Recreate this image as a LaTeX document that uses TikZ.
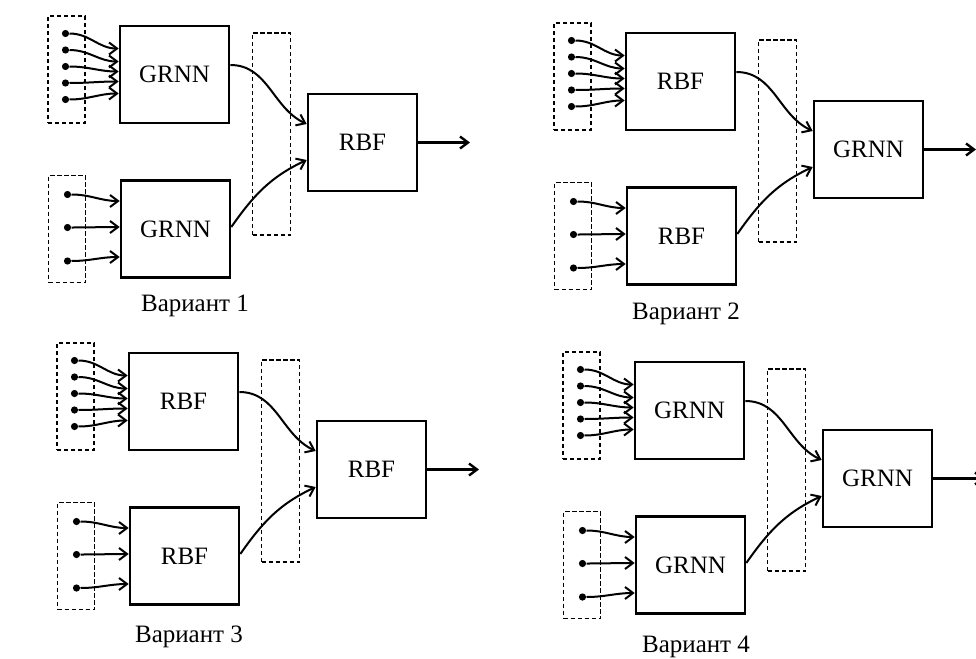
\documentclass[tikz,border=0pt]{standalone}
\usepackage{fontspec}
\setmainfont{Liberation Serif}
\usetikzlibrary{arrows.meta}
\tikzset{
  >={Straight Barb[length=4pt,width=6pt]},
  net/.style={draw,line width=1.3pt,minimum width=54.5pt,minimum height=48.5pt,inner sep=0pt,font=\fontsize{12.5}{14}\selectfont},
  grp/.style={draw,line width=0.9pt,dash pattern=on 2.2pt off 1.3pt,minimum width=18.5pt,minimum height=53.5pt,inner sep=0pt},
  pin/.style={circle,fill,inner sep=0pt,minimum size=3.6pt},
  arr/.style={->,line width=1pt},
  lbl/.style={font=\fontsize{12.5}{14}\selectfont},
}
\begin{document}
\begin{tikzpicture}[x=0.5pt,y=-0.5pt]
\useasboundingbox (0,0) rectangle (976,659);
% one scheme per variant: left nets, mixing net, caption
\foreach \dx/\dy/\ta/\tb/\lx/\ly/\n in {120/26/GRNN/RBF/195/306/1,626/33/RBF/GRNN/686/314/2,129/353/RBF/RBF/189/637/3,635/362/GRNN/GRNN/696/647/4}{
  \begin{scope}[shift={(\dx,\dy)},name prefix=v\n-]
  \node[net] (top) at (54.5,48.5) {\ta};
  \node[net] (bot) at (55.5,203) {\ta};
  \node[net] (mix) at (242.5,116.5) {\tb};
  \node[grp] (gtop) at (-53.5,43.5) {};
  \node[grp] (gbot) at (-53,203) {};
  \node[grp,minimum width=19pt,minimum height=101pt] (gmid) at (151.5,108) {};
  \foreach \k/\y/\s in {1/7.5/13,2/24/6.5,3/40.5/1.5,4/57/-3.5,5/73.5/-9.5}{
    \node[pin] (a\k) at (-54.5,\y) {};
    \draw[arr] (a\k) to[out=0,in=180] ([yshift=\s pt]top.west);
  }
  \foreach \k/\y/\s in {1/168.5/14,2/201.5/1,3/235/-14}{
    \node[pin] (b\k) at (-52.5,\y) {};
    \draw[arr] (b\k) to[out=0,in=180] ([yshift=\s pt]bot.west);
  }
  \draw[arr] ([yshift=4.75pt]top.east) to[out=0,in=155] ([yshift=9.25pt]mix.west);
  \draw[arr] ([yshift=1pt]bot.east) to[out=55,in=205] ([yshift=-8.75pt]mix.west);
  \coordinate (end) at (350,116.5);
  \draw[arr,line width=1.2pt] (mix) -- (end);
  \end{scope}
  \node[lbl] (v\n-name) at (\lx,\ly) {Вариант \n};
}
\end{tikzpicture}
\end{document}
